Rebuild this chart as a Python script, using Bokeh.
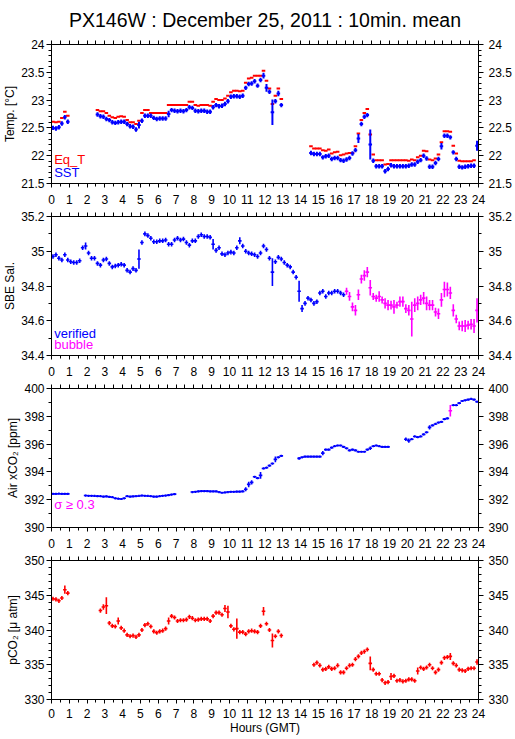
from bokeh.plotting import figure
from bokeh.models import Range1d, FixedTicker, LinearAxis, Label, ColumnDataSource, CustomJSTickFormatter
from bokeh.layouts import column
from bokeh.embed import file_html
from bokeh.resources import INLINE

FONT = "Liberation Sans"
BLUE = "#0000ff"
RED = "#ff0000"
MAG = "#ff00ff"

# ---------------- data (10-minute means; segments = (start hour, values)) ----------------
hour_ticks = list(range(0, 25))
hour_minor = [h + 0.5 for h in range(0, 24)]

temp_ticks = [21.5, 22, 22.5, 23, 23.5, 24]
temp_minor = [21.5 + 0.1 * i for i in range(26)]
sal_ticks = [34.4, 34.6, 34.8, 35.0, 35.2]
sal_minor = [34.4 + 0.1 * i for i in range(9)]
xco2_ticks = [390, 392, 394, 396, 398, 400]
xco2_minor = list(range(390, 401))
pco2_ticks = [330, 335, 340, 345, 350]
pco2_minor = list(range(330, 351))

sst_starts = [0.0, 2.5, 14.5]
sst_vals = [
    [22.50, 22.49, 22.51, 22.58, 22.69, 22.61],
    [22.74, 22.71, 22.70, 22.66, 22.64, 22.60, 22.59, 22.60, 22.61, 22.61, 22.57, 22.53,
     22.52, 22.47, 22.55, 22.63, 22.72, 22.72, 22.72, 22.68, 22.66, 22.67, 22.67, 22.67,
     22.75, 22.82, 22.81, 22.80, 22.81, 22.80, 22.82, 22.87, 22.86, 22.81, 22.80, 22.81,
     22.81, 22.79, 22.79, 22.87, 22.91, 22.89, 22.90, 22.93, 22.98, 23.06, 23.07, 23.07,
     23.06, 23.08, 23.22, 23.29, 23.30, 23.34, 23.26, 23.36, 23.44, 23.22, 23.15, 22.78,
     22.98, 23.12, 22.91],
    [22.05, 22.03, 22.03, 22.03, 21.97, 21.99, 22.00, 21.94, 21.96, 21.96, 21.92, 21.91,
     21.93, 21.96, 22.04, 22.10, 22.31, 22.57, 22.70, 22.73, 22.20, 21.91, 21.81, 21.81,
     21.81, 21.72, 21.76, 21.83, 21.81, 21.81, 21.81, 21.81, 21.81, 21.82, 21.84, 21.84,
     21.89, 21.92, 22.00, 21.95, 21.80, 21.80, 21.87, 21.94, 22.17, 22.36, 22.36, 22.33,
     22.06, 21.94, 21.80, 21.79, 21.80, 21.81, 21.82, 21.82, 22.18],
]
sst_err_t = [4.83, 6.5, 11.83, 12.0, 12.33, 12.67, 17.17, 17.83, 21.83, 23.83]
sst_err_v = [0.06, 0.06, 0.05, 0.07, 0.23, 0.05, 0.08, 0.27, 0.06, 0.09]

eqt_starts = [0.0, 2.5, 14.5]
eqt_vals = [
    [22.61, 22.60, 22.61, 22.68, 22.79, 22.72],
    [22.82, 22.80, 22.80, 22.77, 22.72, 22.69, 22.68, 22.70, 22.71, 22.70, 22.64, 22.60,
     22.60, 22.57, 22.63, 22.77, 22.82, 22.82, 22.77, 22.77, 22.77, 22.77, 22.77, 22.77,
     22.91, 22.91, 22.91, 22.91, 22.91, 22.91, 22.91, 22.97, 22.97, 22.91, 22.90, 22.91,
     22.91, 22.91, 22.90, 22.97, 23.02, 23.00, 23.00, 23.03, 23.08, 23.14, 23.17, 23.17,
     23.16, 23.17, 23.31, 23.39, 23.40, 23.44, 23.44, 23.44, 23.53, 23.35, 23.21, 22.93,
     23.08, 23.21, 23.02],
    [22.17, 22.13, 22.13, 22.13, 22.10, 22.09, 22.11, 22.04, 22.06, 22.07, 22.01, 22.02,
     22.04, 22.05, 22.05, 22.17, 22.40, 22.64, 22.77, 22.84, 22.38, 22.02, 21.92, 21.92,
     21.92, 21.84, 21.85, 21.92, 21.92, 21.92, 21.92, 21.92, 21.92, 21.91, 21.93, 21.92,
     21.97, 22.00, 22.09, 22.08, 21.93, 21.92, 21.95, 22.02, 22.24, 22.44, 22.44, 22.43,
     22.18, 22.04, 21.91, 21.90, 21.90, 21.90, 21.90, 21.92],
]

sal_ver_starts = [0.0]
sal_ver_vals = [
    [34.97, 34.98, 34.96, 34.95, 34.98, 34.95, 34.94, 34.935, 34.935, 34.945, 35.02, 35.03,
     34.99, 34.96, 34.96, 34.93, 34.92, 34.95, 34.955, 34.93, 34.91, 34.915, 34.92, 34.925,
     34.92, 34.89, 34.88, 34.90, 34.89, 34.955, 35.05, 35.10, 35.09, 35.075, 35.055, 35.055,
     35.06, 35.06, 35.065, 35.04, 35.04, 35.065, 35.075, 35.065, 35.07, 35.05, 35.035, 35.06,
     35.06, 35.085, 35.095, 35.085, 35.085, 35.08, 35.04, 35.005, 35.02, 34.985, 34.98, 34.99,
     34.995, 34.99, 35.02, 35.06, 35.03, 35.00, 34.99, 34.985, 34.98, 34.97, 34.99, 35.03,
     35.01, 34.96, 34.88, 34.94, 34.965, 34.955, 34.935, 34.92, 34.91, 34.88, 34.85, 34.77,
     34.67, 34.70, 34.73, 34.72, 34.70, 34.71, 34.76, 34.77, 34.74, 34.76, 34.76, 34.77,
     34.77, 34.76, 34.75],
]
sal_ver_err_t = [1.83, 4.83, 9.0, 10.5, 12.33, 13.83, 14.0]
sal_ver_err_v = [0.02, 0.055, 0.03, 0.02, 0.08, 0.06, 0.02]

sal_bub_starts = [16.5]
sal_bub_vals = [
    [34.77, 34.74, 34.68, 34.66, 34.75, 34.84, 34.86, 34.88, 34.79, 34.74, 34.73, 34.74,
     34.72, 34.70, 34.69, 34.69, 34.68, 34.69, 34.71, 34.71, 34.67, 34.66, 34.61, 34.69,
     34.70, 34.72, 34.73, 34.70, 34.69, 34.69, 34.65, 34.64, 34.72, 34.78, 34.78, 34.76,
     34.66, 34.61, 34.57, 34.57, 34.57, 34.575, 34.58, 34.57, 34.66],
]
sal_bub_err = [
    0.02, 0.025, 0.025, 0.03, 0.03, 0.025, 0.03, 0.03, 0.045, 0.02, 0.02, 0.03,
    0.02, 0.03, 0.03, 0.025, 0.04, 0.02, 0.03, 0.03, 0.025, 0.03, 0.1, 0.04,
    0.04, 0.03, 0.035, 0.04, 0.03, 0.03, 0.025, 0.03, 0.04, 0.045, 0.04, 0.035,
    0.035, 0.025, 0.025, 0.03, 0.035, 0.025, 0.03, 0.04, 0.07,
]

xco2_starts = [0.0, 1.83, 7.83, 13.83, 19.83, 22.5]
xco2_vals = [
    [392.42, 392.42, 392.43, 392.42, 392.42, 392.42],
    [392.30, 392.28, 392.28, 392.27, 392.26, 392.25, 392.22, 392.24, 392.20, 392.18, 392.10,
     392.07, 392.05, 392.10, 392.25, 392.22, 392.24, 392.25, 392.27, 392.30, 392.28, 392.27,
     392.25, 392.22, 392.22, 392.25, 392.28, 392.30, 392.33, 392.37, 392.40],
    [392.55, 392.57, 392.60, 392.62, 392.62, 392.62, 392.60, 392.60, 392.60, 392.55, 392.50,
     392.52, 392.55, 392.57, 392.57, 392.58, 392.58, 392.60, 392.75, 393.10, 393.25, 393.65,
     393.55, 393.75, 394.25, 394.30, 394.45, 394.60, 394.90, 395.05, 395.15],
    [394.97, 395.05, 395.10, 395.10, 395.10, 395.10, 395.10, 395.10, 395.35, 395.60, 395.60,
     395.75, 395.85, 395.90, 395.90, 395.80, 395.70, 395.55, 395.60, 395.55, 395.45, 395.45,
     395.45, 395.60, 395.70, 395.85, 395.90, 395.85, 395.80, 395.80, 395.80],
    [396.35, 396.25, 396.35, 396.55, 396.50, 396.55, 396.70, 396.85, 397.20, 397.35, 397.45,
     397.55, 397.60, 397.80, 397.85],
    [398.80, 398.80, 398.95, 399.10, 399.15, 399.20, 399.25, 399.20, 399.05],
]
xco2_err_t = [10.83, 11.0, 11.17, 11.67, 12.5, 13.83, 15.17, 17.83, 19.83, 20.0, 21.17]
xco2_err_v = [0.15, 0.2, 0.15, 0.25, 0.2, 0.1, 0.15, 0.12, 0.12, 0.15, 0.15]
xco2_flag_t = [22.33]
xco2_flag_v = [398.40]
xco2_flag_err = [0.42]

pco2_starts = [0.0, 2.67, 14.67]
pco2_vals = [
    [344.5, 344.4, 344.2, 344.6, 345.8, 345.3],
    [342.8, 343.3, 343.5, 341.0, 340.6, 340.5, 341.3, 340.3, 339.9, 339.3, 339.1, 339.2,
     339.0, 339.3, 340.0, 340.7, 340.9, 340.5, 339.8, 339.6, 339.8, 339.9, 340.2, 341.3,
     342.0, 341.8, 341.3, 341.4, 341.4, 341.5, 341.9, 341.7, 341.4, 341.5, 341.6, 341.6,
     341.6, 341.3, 342.0, 342.5, 342.5, 342.2, 343.1, 342.6, 340.6, 340.1, 340.2, 339.7,
     339.7, 339.4, 339.8, 339.9, 339.8, 339.7, 340.6, 342.7, 340.9, 340.0, 338.5, 339.1,
     339.8, 339.2],
    [335.0, 335.3, 334.9, 334.3, 334.4, 334.7, 334.4, 334.5, 334.9, 333.9, 333.9, 334.5,
     334.9, 335.0, 335.8, 336.2, 336.7, 336.9, 337.2, 335.2, 334.3, 333.7, 333.7, 332.8,
     332.4, 332.5, 333.3, 333.4, 332.7, 332.8, 332.6, 332.7, 332.9, 332.9, 332.7, 334.1,
     334.6, 334.4, 334.6, 335.0, 334.5, 333.9, 334.3, 335.3, 336.0, 336.1, 336.2, 335.2,
     334.9, 334.3, 334.2, 334.1, 334.4, 334.5, 334.5, 335.4],
]
pco2_err_t = [0.67, 2.83, 3.0, 3.67, 6.5, 9.67, 9.83, 10.33, 11.83, 12.33, 17.83, 19.0, 20.5, 22.33, 23.83]
pco2_err_v = [0.6, 0.4, 1.2, 0.5, 0.5, 0.5, 0.9, 1.45, 0.6, 1.0, 1.0, 0.5, 0.5, 0.5, 0.4]


# ---------------- helpers ----------------
def expand(starts, segs):
    ts, vs, keys = [], [], []
    for s, vals in zip(starts, segs):
        k0 = round(s * 6)
        for i, v in enumerate(vals):
            keys.append(k0 + i)
            ts.append((k0 + i + 0.5) / 6.0)
            vs.append(v)
    return ts, vs, keys


def cross_source(ts, vs, errs, hw, min_arm):
    return ColumnDataSource(dict(
        x0=[t - hw for t in ts], x1=[t + hw for t in ts], y=vs, t=ts,
        ylo=[v - max(e, min_arm) for v, e in zip(vs, errs)],
        yhi=[v + max(e, min_arm) for v, e in zip(vs, errs)],
    ))


def errs_from(keys, err_t, err_v):
    m = {round(t * 6): e for t, e in zip(err_t, err_v)}
    return [m.get(k, 0.0) for k in keys]


HW = 0.1
TICKFMT = CustomJSTickFormatter(code="return String(Math.round(tick*100)/100)")


def style_axis(ax, out_major=5, out_minor=3):
    ax.axis_line_color = "black"
    ax.major_tick_line_color = "black"
    ax.minor_tick_line_color = "black"
    ax.major_tick_in = 0
    ax.minor_tick_in = 0
    ax.major_tick_out = out_major
    ax.minor_tick_out = out_minor
    ax.major_label_text_font = FONT
    ax.major_label_text_font_size = "12px"
    ax.major_label_text_color = "black"
    ax.axis_label_text_font = FONT
    ax.axis_label_text_font_style = "normal"
    ax.axis_label_text_font_size = "12px"
    ax.axis_label_text_color = "black"


def make_fig(yr, yticks, yminor, ylabel, top, bottom, title=None, xlabel=None):
    kw = dict(frame_width=427, frame_height=139,
              x_range=Range1d(0, 24), y_range=Range1d(*yr),
              output_backend="svg", toolbar_location=None,
              min_border_left=43, min_border_right=34,
              min_border_top=top, min_border_bottom=bottom)
    if title:
        kw["title"] = title
    p = figure(**kw)
    p.grid.visible = False
    p.outline_line_color = "black"
    p.outline_line_width = 1
    p.background_fill_color = "white"
    p.border_fill_color = "white"
    xa = p.xaxis[0]
    xa.ticker = FixedTicker(ticks=hour_ticks, minor_ticks=hour_minor)
    style_axis(xa, 4, 3)
    if xlabel:
        xa.major_label_standoff = 5
        xa.axis_label = xlabel
        xa.axis_label_standoff = 0
    else:
        xa.major_label_standoff = 7
    ya = p.yaxis[0]
    ya.ticker = FixedTicker(ticks=yticks, minor_ticks=yminor)
    ya.formatter = TICKFMT
    style_axis(ya, 5, 3)
    ya.major_label_standoff = 2
    ya.axis_label = ylabel
    ya.axis_label_standoff = 1
    # top axis: ticks only (all drawn as minor ticks, so no labels exist)
    top_ax = LinearAxis(ticker=FixedTicker(ticks=[], minor_ticks=hour_ticks + hour_minor))
    style_axis(top_ax, 4, 4)
    p.add_layout(top_ax, "above")
    right_ax = LinearAxis(ticker=FixedTicker(ticks=yticks, minor_ticks=yminor), formatter=TICKFMT)
    style_axis(right_ax, 5, 3)
    right_ax.major_label_standoff = 5
    p.add_layout(right_ax, "right")
    if title:
        p.title.text_font = FONT
        p.title.text_font_size = "19.5px"
        p.title.text_font_style = "normal"
        p.title.align = "center"
        p.title.vertical_align = "top"
        p.title.standoff = 16
        p.title.text_color = "black"
    return p


def draw_cross(p, src, color, lw=1.6, vertical=True):
    p.segment(x0="x0", y0="y", x1="x1", y1="y", source=src, line_color=color, line_width=lw)
    if vertical:
        p.segment(x0="t", y0="ylo", x1="t", y1="yhi", source=src, line_color=color, line_width=lw)


def add_text(p, x, y, text, color):
    p.add_layout(Label(x=x, y=y, text=text, text_color=color, text_font=FONT,
                       text_font_size="13px"))


# ---------------- panel 1: temperature ----------------
p1 = make_fig((21.5, 24), temp_ticks, temp_minor, "Temp. [°C]", 44, 25,
              title="PX146W : December 25, 2011 : 10min. mean")
t, v, k = expand(eqt_starts, eqt_vals)
draw_cross(p1, cross_source(t, v, [0] * len(v), HW, 0), RED, lw=2, vertical=False)
t, v, k = expand(sst_starts, sst_vals)
draw_cross(p1, cross_source(t, v, errs_from(k, sst_err_t, sst_err_v), HW, 0.04), BLUE, lw=2)
add_text(p1, 0.15, 21.79, "Eq_T", RED)
add_text(p1, 0.15, 21.56, "SST", BLUE)

# ---------------- panel 2: salinity ----------------
p2 = make_fig((34.4, 35.2), sal_ticks, sal_minor, "SBE Sal.", 8, 25)
t, v, k = expand(sal_ver_starts, sal_ver_vals)
draw_cross(p2, cross_source(t, v, errs_from(k, sal_ver_err_t, sal_ver_err_v), HW, 0.013), BLUE)
t, v, k = expand(sal_bub_starts, sal_bub_vals)
draw_cross(p2, cross_source(t, v, sal_bub_err, HW, 0.013), MAG)
add_text(p2, 0.15, 34.483, "verified", BLUE)
add_text(p2, 0.15, 34.419, "bubble", MAG)

# ---------------- panel 3: air xCO2 ----------------
p3 = make_fig((390, 400), xco2_ticks, xco2_minor, "Air xCO₂ [ppm]", 8, 25)
t, v, k = expand(xco2_starts, xco2_vals)
draw_cross(p3, cross_source(t, v, errs_from(k, xco2_err_t, xco2_err_v), HW, 0.08), BLUE)
ft, fv, fk = expand([xco2_flag_t[0]], [xco2_flag_v])
draw_cross(p3, cross_source(ft, fv, xco2_flag_err, HW, 0.08), MAG)
add_text(p3, 0.15, 391.11, "σ ≥ 0.3", MAG)

# ---------------- panel 4: pCO2 ----------------
p4 = make_fig((330, 350), pco2_ticks, pco2_minor, "pCO₂ [μ atm]", 8, 32, xlabel="Hours (GMT)")
t, v, k = expand(pco2_starts, pco2_vals)
draw_cross(p4, cross_source(t, v, errs_from(k, pco2_err_t, pco2_err_v), HW, 0.3), RED)

layout = column(p1, p2, p3, p4, spacing=0)
open("out.html", "w").write(file_html(layout, INLINE))
